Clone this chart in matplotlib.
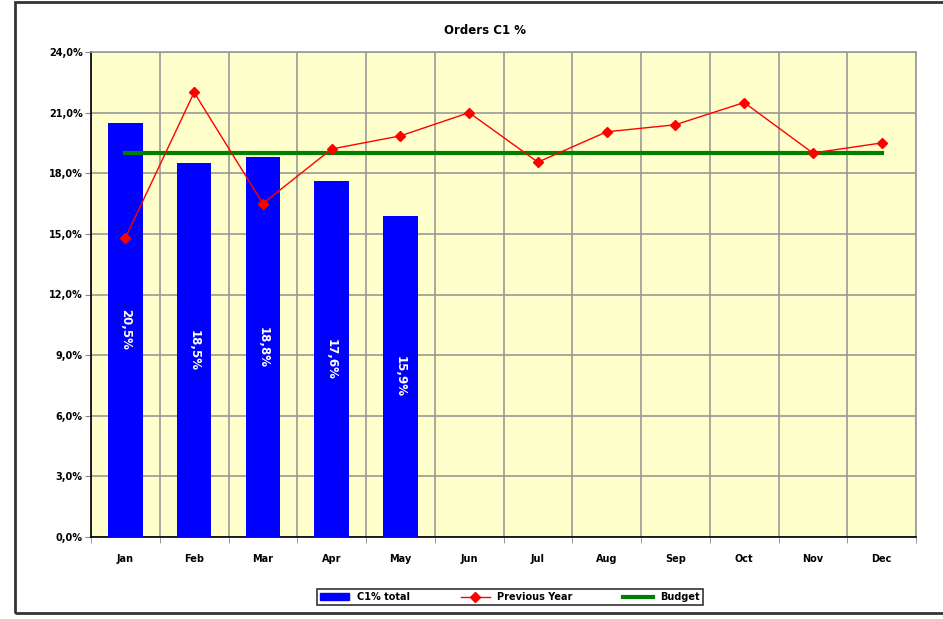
import numpy as np
import matplotlib.pyplot as plt
from matplotlib.patches import Rectangle

months = ['Jan', 'Feb', 'Mar', 'Apr', 'May', 'Jun',
          'Jul', 'Aug', 'Sep', 'Oct', 'Nov', 'Dec']
c1_total = [20.5, 18.5, 18.8, 17.6, 15.9]
previous_year = [14.8, 22.0, 16.5, 19.2, 19.85, 21.0,
                 18.55, 20.05, 20.4, 21.5, 19.0, 19.5]
budget = [19.0] * 12
yticks = [0, 3, 6, 9, 12, 15, 18, 21, 24]

fig = plt.figure(figsize=(9.43, 6.19), dpi=100)
ax = fig.add_axes([91/943, 82/619, 825/943, 485/619])

x = np.arange(len(months))
ax.set_facecolor('#ffffcc')
ax.bar(x[:len(c1_total)], c1_total, width=0.5, color='#0000ff', zorder=3)
for xi, v in zip(x, c1_total):
    ax.text(xi, v / 2, f'{v:.1f}%'.replace('.', ','), rotation=270,
            ha='center', va='center', color='white', fontsize=8.5,
            fontweight='bold', zorder=5)
ax.plot(x, previous_year, color='#ff0000', lw=1, marker='D', ms=5,
        zorder=4, label='Previous Year')
ax.plot(x, budget, color='#008000', lw=3, zorder=3.5, label='Budget')

ax.set_xlim(-0.5, 11.5)
ax.set_ylim(0, 24)
ax.set_yticks(yticks)
ax.set_yticklabels([f'{t:.1f}%'.replace('.', ',') for t in yticks],
                   fontsize=7, fontweight='bold')
ax.set_xticks(x)
ax.set_xticklabels(months, fontsize=7, fontweight='bold')
ax.set_xticks(np.arange(-0.5, 12, 1), minor=True)
ax.tick_params(axis='x', which='major', length=0, pad=12)
ax.tick_params(axis='x', which='minor', length=4, direction='out', color='#888888')
ax.tick_params(axis='y', length=4, direction='out', color='#888888', pad=2)
ax.grid(True, axis='y', color='#999999', lw=1.2, zorder=1)
ax.grid(True, axis='x', which='minor', color='#999999', lw=1.2, zorder=1)
ax.spines['left'].set_color('black')
ax.spines['bottom'].set_color('black')
ax.spines['top'].set_color('#999999')
ax.spines['right'].set_color('#999999')
for s in ax.spines.values():
    s.set_linewidth(1.2)

fig.text(485/943, 1 - 30/619, 'Orders C1 %', ha='center', va='center',
         fontsize=8.5, fontweight='bold')

# outer chart border
fig.patches.append(Rectangle((15/943, 1 - 613/619), 0.99, 611/619,
                             transform=fig.transFigure, fill=False,
                             edgecolor='#333333', lw=2))

handles = [Rectangle((0, 0), 1, 1, color='#0000ff'),
           ax.lines[0], ax.lines[1]]
leg = fig.legend(handles, ['C1% total', 'Previous Year', 'Budget'],
                 loc='center', bbox_to_anchor=(510/943, 1 - 597/619),
                 ncol=3, frameon=True, fancybox=False,
                 edgecolor='black', columnspacing=5.2, handlelength=3,
                 borderpad=0.3, prop={'weight': 'bold', 'size': 7})
leg.get_frame().set_linewidth(1.2)

fig.savefig('out.png', dpi=100)
